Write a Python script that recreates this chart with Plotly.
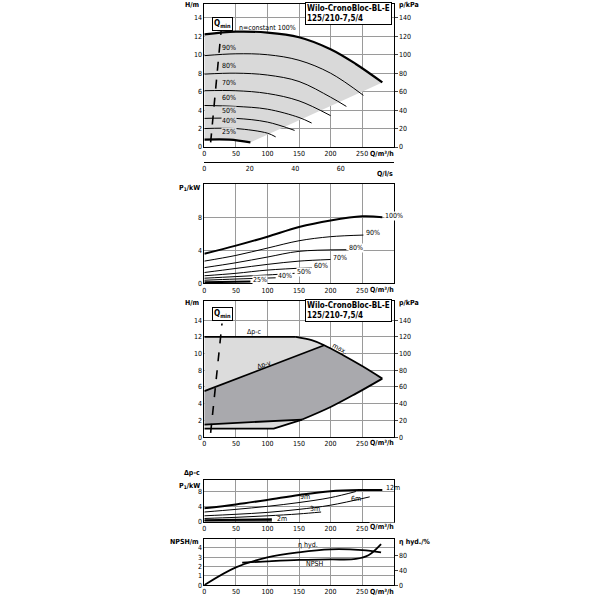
import plotly.graph_objects as go

# ---------- data ----------
speeds = ["100%", "90%", "80%", "70%", "60%", "50%", "40%", "25%"]
h_q = [[0, 50, 100, 150, 200, 240, 282],
       [0, 50, 100, 150, 200, 252],
       [0, 50, 100, 150, 200, 225],
       [0, 50, 100, 150, 200],
       [0, 50, 100, 150, 170],
       [0, 50, 100, 143],
       [0, 50, 100, 113],
       [0, 40, 73]]
h_h = [[12.2, 12.5, 12.4, 11.9, 10.6, 9.0, 7.0],
       [9.9, 10.1, 10.0, 9.4, 8.0, 5.6],
       [7.9, 8.0, 7.8, 7.1, 5.4, 4.4],
       [6.1, 6.1, 5.8, 5.0, 3.4],
       [4.5, 4.4, 4.1, 3.2, 2.6],
       [3.1, 3.1, 2.7, 1.8],
       [2.0, 2.0, 1.5, 1.1],
       [0.8, 0.8, 0.5]]
qmin_q = [10, 28]
qmin_h = [0.5, 13.6]

p_q = [[0, 50, 100, 150, 200, 250, 282],
       [0, 50, 100, 150, 200, 252],
       [0, 50, 100, 150, 225],
       [0, 50, 100, 150, 200],
       [0, 50, 100, 170],
       [0, 50, 100, 143],
       [0, 50, 113],
       [0, 73]]
p_p = [[3.6, 4.6, 5.7, 6.9, 7.7, 8.2, 8.1],
       [2.7, 3.4, 4.3, 5.2, 5.7, 5.9],
       [1.9, 2.5, 3.2, 3.9, 4.1],
       [1.3, 1.8, 2.3, 2.7, 2.9],
       [0.9, 1.2, 1.6, 1.9],
       [0.6, 0.8, 1.0, 1.2],
       [0.35, 0.5, 0.65],
       [0.1, 0.2]]

max_q = [145, 170, 190, 220, 250, 282]
max_h = [12.0, 11.6, 11.0, 9.8, 8.5, 7.0]
low_q = [282, 240, 200, 155]
low_h = [7.0, 5.2, 3.6, 2.1]
dpv_q = [0, 190]
dpv_h = [5.5, 11.0]
dpc_q = [0, 145]
dpc_h = [12.0, 12.0]
minl_q = [0, 110, 155]
minl_h = [1.0, 1.0, 2.1]
base_q = [0, 155]
base_h = [1.5, 2.1]

dp_labels = ["12m", "9m", "6m", "3m", "2m"]
dp_q = [[0, 50, 100, 150, 200, 250, 282],
        [0, 50, 100, 150, 200, 240],
        [0, 50, 100, 150, 200, 262],
        [0, 50, 100, 150, 185],
        [0, 50, 107]]
dp_p = [[3.5, 4.5, 5.7, 7.0, 8.0, 8.3, 8.3],
        [2.5, 3.2, 4.0, 5.0, 6.3, 7.9],
        [1.5, 1.9, 2.4, 3.2, 4.3, 6.5],
        [0.8, 1.1, 1.5, 2.0, 2.5],
        [0.3, 0.45, 0.6]]

eta_q = [0, 50, 100, 150, 200, 250, 280]
eta_v = [0, 48, 75, 89, 97, 95, 89]
npsh_q = [60, 100, 150, 200, 240, 260, 280]
npsh_v = [2.4, 2.55, 2.7, 2.75, 2.8, 3.2, 4.4]

# ---------- figure ----------
W = 600
def pxx(xp):
    return xp / W
def pyy(yp):
    return 1 - yp / W
X0, X1 = pxx(203), pxx(393)
def yd(top, bot):
    return [pyy(bot), pyy(top)]

FONT = dict(family="DejaVu Sans Condensed, DejaVu Sans", size=7, color="black")
GRID = "#9a9a9a"
fig = go.Figure()

def trr(x, y, xa, ya, **kw):
    d = dict(x=x, y=y, mode="lines", xaxis=xa, yaxis=ya, showlegend=False, hoverinfo="skip")
    d.update(kw)
    fig.add_trace(go.Scatter(**d))

def tr(x, y, ax, **kw):
    trr(x, y, "x" + ax, "y" + ax, **kw)

# panel 1
poly_q = h_q[0] + h_q[7][::-1]
poly_h = h_h[0] + h_h[7][::-1]
tr(poly_q + [0], poly_h + [h_h[0][0]], "", fill="toself", fillcolor="#d9d9d9",
   line=dict(width=0))
for i, s in enumerate(speeds):
    w = 2.2 if i in (0, 7) else 1
    tr(h_q[i], h_h[i], "", line=dict(color="black", width=w, shape="spline"))
tr(qmin_q, qmin_h, "", line=dict(color="black", width=1.6, dash="dash"))

# panel 2
for i in range(len(speeds)):
    w = 2 if i in (0, 7) else 1
    tr(p_q[i], p_p[i], "2", line=dict(color="black", width=w, shape="spline"))

# panel 3
lq = dpc_q + max_q + low_q + minl_q[::-1]
lh = dpc_h + max_h + low_h + minl_h[::-1]
tr(lq, lh, "3", fill="toself", fillcolor="#dcdcdc", line=dict(width=0))
dq = dpv_q + max_q[2:] + low_q + base_q[::-1]
dh = dpv_h + max_h[2:] + low_h + base_h[::-1]
tr(dq, dh, "3", fill="toself", fillcolor="#a9a9ad", line=dict(width=0))
for qq, hh, sh in [(dpc_q, dpc_h, "linear"), (max_q, max_h, "spline"),
                   (low_q, low_h, "spline"), (dpv_q, dpv_h, "linear"),
                   (minl_q, minl_h, "linear"), (base_q, base_h, "linear")]:
    tr(qq, hh, "3", line=dict(color="black", width=1.8, shape=sh))
tr(qmin_q, qmin_h, "3", line=dict(color="black", width=1.6, dash="dash"))

# panel 4
for i in range(len(dp_labels)):
    w = 2 if i in (0, 4) else 1
    tr(dp_q[i], dp_p[i], "4", line=dict(color="black", width=w, shape="spline"))
tr([0, 107], [0.05, 0.05], "4", line=dict(color="black", width=2))

# panel 5
tr(npsh_q, npsh_v, "5", line=dict(color="black", width=1.8, shape="spline"))
trr(eta_q, eta_v, "x5", "y9", line=dict(color="black", width=1.8, shape="spline"))
# carriers for secondary axes
trr([0, 80], [None, None], "x6", "y", line=dict(width=0))
trr([0, 0], [0, 0], "x", "y6", line=dict(width=0), opacity=0)
trr([0, 0], [0, 0], "x3", "y7", line=dict(width=0), opacity=0)

ax_common = dict(showline=True, linecolor="black", linewidth=1, mirror=True,
                 ticks="", showgrid=True, gridcolor=GRID, gridwidth=1,
                 zeroline=False, tickfont=FONT)
xcom = dict(ax_common, range=[0, 300], tickvals=[0, 50, 100, 150, 200, 250],
            domain=[X0, X1])
rcom = dict(side="right", showgrid=False, zeroline=False, ticks="outside",
            ticklen=3, tickfont=FONT)

lay = dict(width=W, height=W, paper_bgcolor="white", plot_bgcolor="white",
           margin=dict(l=0, r=0, t=0, b=0), showlegend=False, font=FONT)
lay["xaxis"] = dict(xcom, anchor="y")
lay["yaxis"] = dict(ax_common, domain=yd(4, 148), range=[0, 15.5], dtick=2, anchor="x")
lay["yaxis6"] = dict(rcom, range=[0, 155], tickvals=list(range(0, 141, 20)),
                     overlaying="y", anchor="x")
lay["xaxis2"] = dict(xcom, anchor="y2")
lay["yaxis2"] = dict(ax_common, domain=yd(185, 285), range=[0, 12.2], tickvals=[0, 4, 8], anchor="x2")
lay["xaxis3"] = dict(xcom, anchor="y3")
lay["yaxis3"] = dict(ax_common, domain=yd(303, 440), range=[0, 16.3],
                     tickvals=list(range(0, 15, 2)), anchor="x3")
lay["yaxis7"] = dict(rcom, range=[0, 163], tickvals=list(range(0, 141, 20)),
                     overlaying="y3", anchor="x3")
lay["xaxis4"] = dict(xcom, anchor="y4")
lay["yaxis4"] = dict(ax_common, domain=yd(483, 525), range=[0, 11], tickvals=[0, 4, 8], anchor="x4")
lay["xaxis5"] = dict(xcom, anchor="y5")
lay["yaxis5"] = dict(ax_common, domain=yd(543, 589), range=[0, 4.9], tickvals=[0, 1, 2, 3, 4], anchor="x5")
lay["yaxis9"] = dict(rcom, range=[0, 124], tickvals=[0, 40, 80], overlaying="y5", anchor="x5")
lay["xaxis6"] = dict(range=[0, 300 / 3.6], tickvals=[0, 20, 40, 60], domain=[X0, X1],
                     anchor="free", position=pyy(163), overlaying="x",
                     showline=True, linecolor="black", showgrid=False, zeroline=False,
                     ticks="", tickfont=FONT)
fig.update_layout(**lay)

anns = []
def A(text, x, y, xref="paper", yref="paper", **kw):
    d = dict(text=text, x=x, y=y, xref=xref, yref=yref, showarrow=False, font=FONT)
    d.update(kw)
    anns.append(d)

def px(xp, yp):
    return pxx(xp), pyy(yp)

# axis titles
for yp in (5, 305):
    A("<b>H/m</b>", *px(201, yp), xanchor="right", yanchor="middle")
    A("<b>p/kPa</b>", *px(396, yp), xanchor="left", yanchor="middle")
for yp in (155, 292, 446, 531, 596):
    A("<b>Q/m³/h</b>", *px(394, yp), xanchor="right", yanchor="middle",
      bgcolor="white", borderpad=0)
A("<b>Q/l/s</b>", *px(394, 175), xanchor="right", yanchor="middle")
A("<b>P<sub>1</sub>/kW</b>", *px(201, 189), xanchor="right", yanchor="middle")
A("<b>Δp-c</b>", *px(201, 476), xanchor="right", yanchor="middle")
A("<b>P<sub>1</sub>/kW</b>", *px(201, 489), xanchor="right", yanchor="middle")
A("<b>NPSH/m</b>", *px(200, 546), xanchor="right", yanchor="middle")
A("<b>η hyd./%</b>", *px(396, 546), xanchor="left", yanchor="middle")
# title boxes
for yp in (14, 313):
    A("<b>Wilo-CronoBloc-BL-E<br>125/210-7,5/4</b>",
      *px(304, yp), xanchor="left",
      yanchor="middle", align="left", bgcolor="white", bordercolor="black", borderwidth=1,
      borderpad=1, font=dict(FONT, size=8))
    A("<b>Q<sub>min</sub></b>", *px(221, yp + 3), bgcolor="white", bordercolor="black",
      borderwidth=1, borderpad=1, font=dict(FONT, size=8))
# panel 1 labels
A("n=constant 100%", 52, 12.9, "x", "y", xanchor="left")
for i in range(1, 8):
    A(speeds[i], 27, h_h[i][0] + 0.3, "x", "y", xanchor="left", yanchor="bottom",
      bgcolor="#d9d9d9", borderpad=0)
# panel 2 labels
for i in range(8):
    A(speeds[i], p_q[i][-1] + 2, p_p[i][-1] + 0.2, "x2", "y2", xanchor="left",
      bgcolor="white", borderpad=0)
# panel 3 labels
A("Δp-c", 80, 12.6, "x3", "y3")
A("max.", 215, 10.6, "x3", "y3", textangle=28)
A("Δp-v", 95, 8.6, "x3", "y3", textangle=-18)
# panel 4 labels
A("12m", 285, 8.8, "x4", "y4", xanchor="left")
A("9m", 160, 6.4, "x4", "y4")
A("6m", 240, 6.0, "x4", "y4")
A("3m", 175, 3.2, "x4", "y4")
A("2m", 112, 0.6, "x4", "y4", xanchor="left")
# panel 5 labels
A("η hyd.", 165, 4.3, "x5", "y5")
A("NPSH", 175, 2.3, "x5", "y5")
fig.update_layout(annotations=anns)
fig.write_html("out.html", config={"displayModeBar": False},
               post_script="document.body.style.margin='0';document.body.style.overflow='hidden';")
